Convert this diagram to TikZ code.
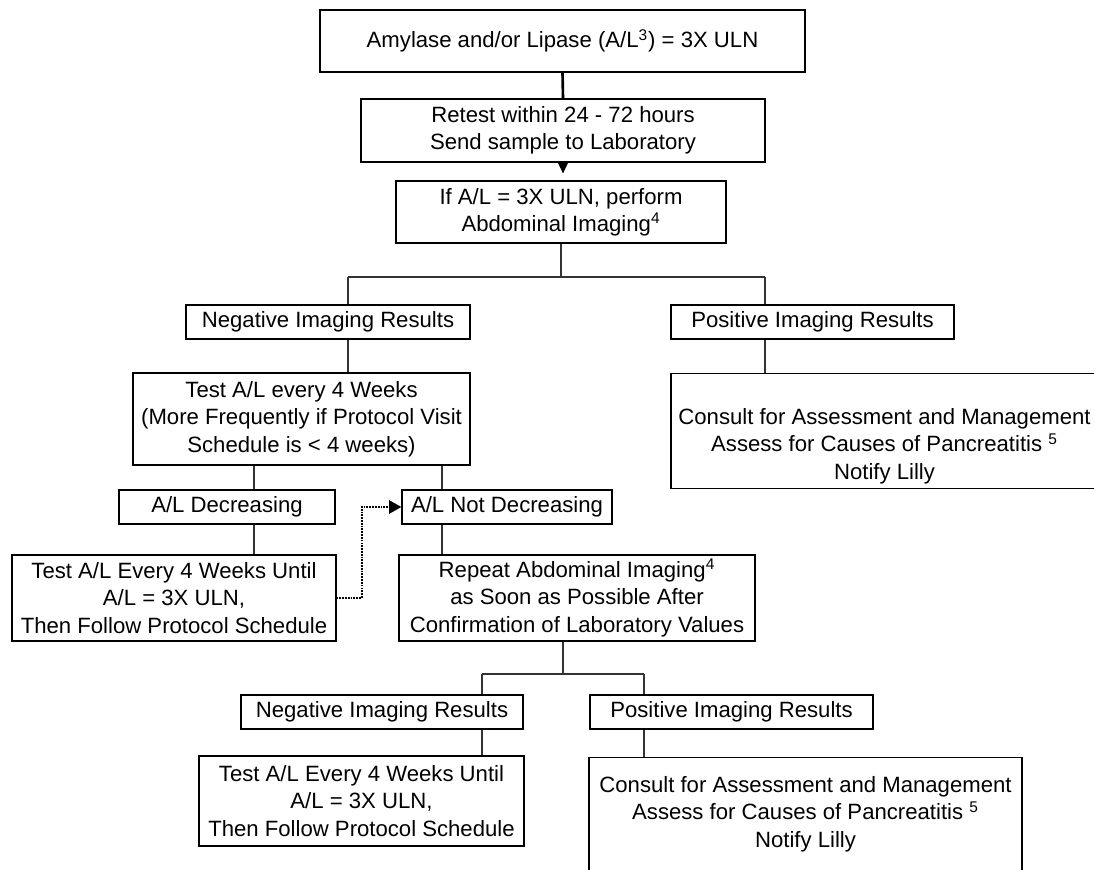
\documentclass[tikz,border=0pt]{standalone}
\usepackage{fontspec}
\setmainfont{Liberation Sans}
\usetikzlibrary{arrows.meta, calc}

\tikzset{
    box/.style={draw, line width=0.7pt, inner sep=0pt, align=center, font=\fontsize{12.6}{15.6}\selectfont},
    sz/.style 2 args={minimum width=#1*0.02cm, minimum height=#2*0.02cm},
    link/.style={line width=0.6pt, draw=black!80},
    dotlink/.style={line width=1.2pt, dash pattern=on 1pt off 0.6pt, -{Triangle[length=7pt, width=7.5pt]}},
}

\begin{document}
\begin{tikzpicture}[x=0.02cm, y=-0.02cm]
            \useasboundingbox (0,0) rectangle (1094,869);
            \clip (0,0) rectangle (1094,869);

            % top of the chart
            \node[box, sz={485}{62}] (amyl) at (562.5,41) {Amylase and/or Lipase (A/L\textsuperscript{3}) = 3X ULN};
            \node[box, sz={404}{63}] (retest) at (563,130.5) {Retest within 24 - 72 hours\\Send sample to Laboratory};
            \node[box, sz={330}{62}] (ifimg) at (561,212) {If A/L = 3X ULN, perform\\Abdominal Imaging\textsuperscript{4}};

            % first imaging results
            \node[box, sz={284}{34}] (neg1) at (328,322) {Negative Imaging Results};
            \node[box, sz={283}{34}] (pos1) at (812.5,322) {Positive Imaging Results};
            \node[box, sz={337}{92}] (test1) at (301.5,419) {Test A/L every 4 Weeks\\(More Frequently if Protocol Visit\\Schedule is \textless{} 4 weeks)};
            \node[box, minimum width=427*0.02cm, anchor=north] (cons1) at (884.5,373) {\rule{0pt}{28.9pt}Consult for Assessment and Management\\Assess for Causes of Pancreatitis \textsuperscript{5}\\Notify Lilly\rule[-5.1pt]{0pt}{5.1pt}};

            \node[box, sz={216}{34}] (decr) at (227,507) {A/L Decreasing};
            \node[box, sz={210}{34}] (notdecr) at (507,507) {A/L Not Decreasing};
            \node[box, sz={324}{86}] (untl1) at (174,598) {Test A/L Every 4 Weeks Until\\A/L = 3X ULN,\\Then Follow Protocol Schedule};
            \node[box, sz={356}{86}] (repeat) at (577,598) {Repeat Abdominal Imaging\textsuperscript{4}\\as Soon as Possible After\\Confirmation of Laboratory Values};

            % second imaging results
            \node[box, sz={282}{34}] (neg2) at (382,712) {Negative Imaging Results};
            \node[box, sz={283}{34}] (pos2) at (731.5,712) {Positive Imaging Results};
            \node[box, sz={325}{90}] (untl2) at (361.5,801) {Test A/L Every 4 Weeks Until\\A/L = 3X ULN,\\Then Follow Protocol Schedule};
            \node[box, minimum width=433*0.02cm, anchor=north] (cons2) at (805.5,757) {\rule{0pt}{19.8pt}Consult for Assessment and Management\\Assess for Causes of Pancreatitis \textsuperscript{5}\\Notify Lilly\rule[-20pt]{0pt}{20pt}};

            % branch points
            \coordinate (ja) at (348,277);
            \coordinate (jb) at (765,277);
            \coordinate (ka) at (254,0);
            \coordinate (kb) at (442,0);
            \coordinate (jm) at (563,674);
            \coordinate (jc) at (482,674);
            \coordinate (jd) at (644,674);

            \draw[line width=1.5pt] (amyl.south) -- (retest.north);
            \draw[-{Triangle[length=6.8pt, width=6.4pt]}, shorten >=7*0.02cm] (retest.south) -- (retest.south |- ifimg.north);

            \draw[link] (ifimg.south) -- (ifimg.south |- ja);
            \draw[link] (ja) -- (jb);
            \draw[link] (ja) -- (ja |- neg1.north);
            \draw[link] (jb) -- (jb |- pos1.north);
            \draw[link] (ja |- neg1.south) -- (ja |- test1.north);
            \draw[link] (jb |- pos1.south) -- (jb |- cons1.north);

            \draw[link] (ka |- test1.south) -- (ka |- decr.north);
            \draw[link] (kb |- test1.south) -- (kb |- notdecr.north);
            \draw[link] (ka |- decr.south) -- (ka |- untl1.north);
            \draw[link] (kb |- notdecr.south) -- (kb |- repeat.north);
            \draw[dotlink] (untl1.east) -- ++(25,0) |- (notdecr.west);

            \draw[link] (jm |- repeat.south) -- (jm);
            \draw[link] (jc) -- (jd);
            \draw[link] (jc) -- (jc |- neg2.north);
            \draw[link] (jd) -- (jd |- pos2.north);
            \draw[link] (jc |- neg2.south) -- (jc |- untl2.north);
            \draw[link] (jd |- pos2.south) -- (jd |- cons2.north);
        \end{tikzpicture}
\end{document}
